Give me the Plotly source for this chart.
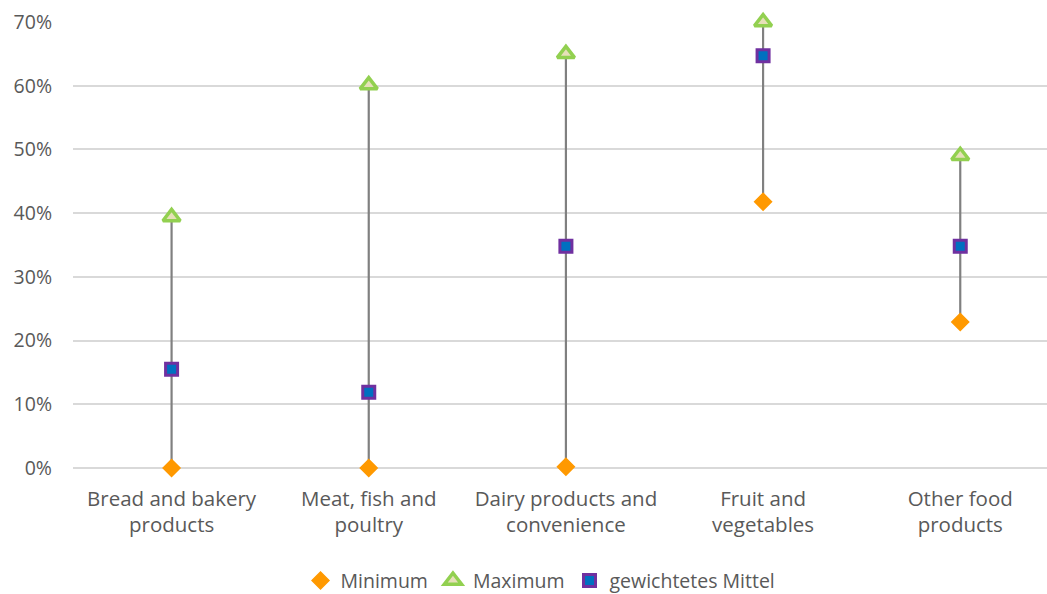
import plotly.graph_objects as go

categories = ["Bread and bakery<br>products", "Meat, fish and<br>poultry", "Dairy products and<br>convenience", "Fruit and<br>vegetables", "Other food<br>products"]
minimum = [0.0, 0.0, 0.002, 0.418, 0.229]
maximum = [0.394, 0.601, 0.650, 0.700, 0.490]
mittel = [0.155, 0.119, 0.348, 0.647, 0.348]
y_ticks = [0, 0.1, 0.2, 0.3, 0.4, 0.5, 0.6, 0.7]

line_x, line_y = [], []
for c, lo, hi in zip(categories, minimum, maximum):
    line_x += [c, c, None]
    line_y += [lo, hi, None]

fig = go.Figure()
fig.add_trace(go.Scatter(x=line_x, y=line_y, mode="lines", line=dict(color="#808080", width=2.2),
                         showlegend=False, hoverinfo="skip"))
fig.add_trace(go.Scatter(x=categories, y=minimum, mode="markers", name="Minimum",
                         marker=dict(symbol="diamond", size=13, color="#FF9900",
                                     line=dict(color="#FF9900", width=1.5)), cliponaxis=False))
fig.add_trace(go.Scatter(x=categories, y=maximum, mode="markers", name="Maximum",
                         marker=dict(symbol="triangle-up", size=15, color="#E6E0B8",
                                     line=dict(color="#92D050", width=3.5)), cliponaxis=False))
fig.add_trace(go.Scatter(x=categories, y=mittel, mode="markers", name="gewichtetes Mittel",
                         marker=dict(symbol="square", size=12, color="#0070C0",
                                     line=dict(color="#7030A0", width=3)), cliponaxis=False))

font_family = "Open Sans, Liberation Sans, sans-serif"
fs = 19.5
fig.update_layout(
    width=1047, height=594,
    margin=dict(l=73, r=0, t=22, b=126, autoexpand=False),
    paper_bgcolor="white", plot_bgcolor="white",
    font=dict(family=font_family, size=fs, color="#595959"),
    xaxis=dict(type="category", range=[-0.5, 4.44], showgrid=False, showline=False,
               ticks="", ticklabelstandoff=16, tickfont=dict(size=20.5, color="#595959")),
    yaxis=dict(range=[0, 0.7], tickvals=y_ticks, tickformat=".0%", showgrid=True,
               gridcolor="#D9D9D9", gridwidth=2, zeroline=True, zerolinecolor="#D9D9D9",
               zerolinewidth=2, showline=False, ticks="", ticklabelstandoff=20,
               tickfont=dict(size=fs, color="#595959")),
    legend=dict(orientation="h", x=0.48, xanchor="center", y=-0.253, yanchor="middle",
                font=dict(size=fs, color="#595959"), itemwidth=30, tracegroupgap=0),
    showlegend=True,
)

fig.write_html("out.html", config={"displayModeBar": False},
               post_script="document.body.style.margin='0px';")
